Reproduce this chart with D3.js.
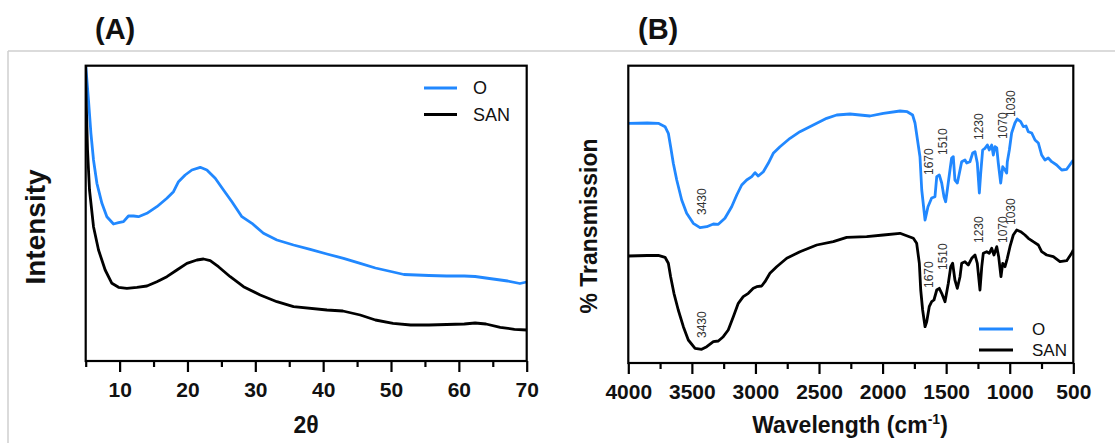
<!DOCTYPE html>
<html><head><meta charset="utf-8">
<script src="https://cdn.jsdelivr.net/npm/d3@7"></script>
<style>
body{margin:0;background:#fff}
svg{display:block}
text{font-family:"Liberation Sans",Arial,Helvetica,sans-serif}
</style>
</head><body>
<svg id="chart" width="1115" height="443"></svg>
<script>
// ---------- DATA ----------
const seriesNames = ["O", "SAN"];
const seriesColors = ["#2188ff", "#000000"];

// (A) XRD: 2θ vs intensity (a.u.)
const xrdTicks = [10, 20, 30, 40, 50, 60, 70];
const xrdMinorTicks = [5, 15, 25, 35, 45, 55, 65];
const xrdThetaO = [5, 5.41, 5.77, 6.15, 6.65, 7.39, 8.12, 9.1, 9.84, 10.57, 11.3, 12.05, 12.78, 14.02, 15.49, 16.97, 17.94, 18.68, 19.66, 20.65, 21.88, 22.86, 24.09, 25.31, 26.55, 28.02, 29.5, 31.2, 33.18, 35.63, 38.09, 40.55, 43, 45.46, 47.7, 50.3, 51.9, 55.6, 58.2, 60.8, 62.4, 64.5, 67.2, 69, 70];
const xrdIntensityO = [296, 261, 227.7, 201, 177.7, 157.7, 144.3, 137, 138.3, 139.3, 145, 145, 144.3, 147.7, 154.3, 162.7, 169.3, 179.3, 186, 191, 193.7, 191, 182.7, 171, 159.3, 144.3, 137.7, 127.7, 121, 116, 111.7, 107, 102.7, 97.7, 93, 89, 86.5, 85.5, 85, 85, 84.5, 82.5, 80, 77.5, 79];
const xrdThetaSAN = [5, 5.07, 5.27, 5.56, 6.15, 6.89, 7.87, 8.86, 9.84, 11.07, 12.55, 14.02, 15.49, 16.97, 18.44, 19.92, 21.39, 22.36, 23.35, 24.57, 26.3, 28.26, 30.72, 33.18, 35.63, 40.55, 42.9, 45.46, 47.7, 50.3, 52.9, 55.6, 58.2, 60.8, 62.4, 64, 66.1, 68.2, 70];
const xrdIntensitySAN = [296, 261, 211, 171, 134.3, 111, 91, 77.7, 73.7, 72.7, 73.7, 75, 79.3, 84.3, 91, 97.7, 101, 102, 100.3, 94.3, 84.3, 74.3, 66, 59.3, 54.3, 51, 50, 46, 41, 37.7, 36, 36, 36.5, 37, 38, 37, 33.7, 31.7, 31];

// (B) FTIR: wavenumber vs % transmission (a.u.)
const ftirTicks = [4000, 3500, 3000, 2500, 2000, 1500, 1000, 500];
const ftirMinorTicks = [3750, 3250, 2750, 2250, 1750, 1250, 750];
const ftirWaveO = [4000, 3850, 3764, 3711, 3685, 3667, 3646, 3619, 3580, 3541, 3489, 3436, 3383, 3331, 3292, 3240, 3187, 3147, 3108, 3069, 3029, 3003, 2978, 2938, 2899, 2860, 2807, 2728, 2650, 2545, 2440, 2361, 2256, 2178, 2099, 1994, 1863, 1806, 1764, 1745, 1706, 1692, 1666, 1643, 1614, 1588, 1574, 1554, 1535, 1517, 1504, 1491, 1470, 1457, 1444, 1431, 1412, 1391, 1378, 1352, 1338, 1313, 1291, 1273, 1255, 1239, 1228, 1213, 1195, 1176, 1161, 1142, 1129, 1116, 1102, 1090, 1071, 1055, 1037, 1024, 1019, 1003, 985, 959, 941, 914, 893, 872, 854, 827, 801, 775, 749, 723, 697, 670, 631, 591, 552, 500];
const ftirTransO = [239.7, 240, 239.7, 236.3, 229.7, 216.3, 199.7, 183, 163, 149.7, 139.7, 135.3, 136.3, 139, 138.7, 144.7, 156.3, 168, 178, 183, 186.3, 190.3, 187, 191.3, 199.7, 209.7, 216.3, 224.7, 231.3, 238, 244.7, 248, 249, 248, 247, 249.7, 252, 251.3, 248, 240, 206.3, 173, 143, 156.3, 165, 166.3, 186.3, 188, 180, 166.3, 161.3, 173, 193, 205, 206.3, 183, 180, 193, 201.3, 203, 200, 201.3, 210, 211.3, 200, 170, 190, 213, 214.7, 218, 213, 218, 208, 216.3, 215, 200, 180, 196.3, 193, 190, 201.3, 213, 230, 240, 244, 241.3, 236.3, 237, 231.3, 230, 223, 220, 208, 203, 205, 201.3, 198, 193, 193.7, 203];
const ftirWaveSAN = [4000, 3850, 3764, 3711, 3685, 3667, 3641, 3607, 3567, 3528, 3475, 3423, 3383, 3331, 3292, 3253, 3214, 3174, 3135, 3096, 3056, 3017, 2990, 2951, 2925, 2886, 2833, 2754, 2650, 2518, 2388, 2282, 2125, 1994, 1863, 1758, 1732, 1711, 1700, 1685, 1666, 1653, 1633, 1614, 1596, 1574, 1554, 1535, 1509, 1483, 1464, 1449, 1431, 1412, 1391, 1378, 1352, 1326, 1299, 1273, 1255, 1234, 1220, 1208, 1181, 1161, 1142, 1124, 1102, 1087, 1069, 1055, 1037, 1019, 998, 972, 945, 914, 880, 854, 815, 775, 749, 709, 657, 605, 552, 513, 500];
const ftirTransSAN = [107, 107.5, 107.7, 105.7, 99.7, 86.3, 69.7, 53, 36.3, 23, 14.7, 13.7, 16.3, 21.3, 22, 26.3, 33, 46.3, 59.7, 66.3, 69.7, 74.7, 76.3, 77, 81.3, 89.7, 96.3, 104.7, 111.3, 118, 121.3, 125.7, 126.3, 128, 129.7, 124.7, 119.7, 99.7, 73, 53, 36.3, 41.3, 56.3, 61.3, 63, 73, 74.7, 69.7, 61.3, 79.7, 96.3, 99.7, 83, 74.7, 86.3, 99.7, 101.3, 98, 104.7, 108, 99.7, 73, 96.3, 109.7, 111.3, 109.7, 114.7, 108, 116.3, 106.3, 86.3, 99.7, 96.3, 104.7, 116.3, 128, 133, 131.3, 128, 124.7, 121.3, 118, 111.3, 108, 106.3, 101.3, 102.3, 109.7, 113];

// peak annotations (label text, wavenumber, level in data units for each series)
const peakLabels = ["3430", "1670", "1510", "1230", "1070", "1030"];
const peakLabelWave = [3423, 1633, 1529, 1242, 1053, 994];
const peakLabelLevelO = [148, 188, 208, 223, 224, 246];
const peakLabelLevelSAN = [25, 75, 93, 120, 120, 138];

// ---------- DRAW ----------
const svg = d3.select("#chart");
const FONT = '"Liberation Sans",Arial,Helvetica,sans-serif';

svg.append("line").attr("x1", 8).attr("x2", 1115).attr("y1", 51).attr("y2", 51)
  .attr("stroke", "#cfcfcf").attr("stroke-width", 1.5);
svg.append("line").attr("x1", 8).attr("x2", 8).attr("y1", 51).attr("y2", 443)
  .attr("stroke", "#cfcfcf").attr("stroke-width", 1.5);

function panel(cfg) {
  const g = svg.append("g");
  const x = d3.scaleLinear().domain(cfg.xDomain).range([cfg.left, cfg.right]);
  const y = d3.scaleLinear().domain(cfg.yDomain).range([cfg.bottom, cfg.top]);
  const clipId = "clip" + cfg.id;
  svg.append("clipPath").attr("id", clipId).append("rect")
    .attr("x", cfg.left).attr("y", cfg.top - 1)
    .attr("width", cfg.right - cfg.left).attr("height", cfg.bottom - cfg.top + 1);

  const line = d3.line().x(d => x(d[0])).y(d => y(d[1]));
  cfg.series.forEach((s, i) => {
    const pts = s.xs.map((v, k) => [v, s.ys[k]]);
    g.append("path").attr("d", line(pts))
      .attr("fill", "none").attr("stroke", seriesColors[i])
      .attr("stroke-width", 2.8).attr("stroke-linejoin", "round")
      .attr("clip-path", `url(#${clipId})`);
  });

  g.append("rect").attr("x", cfg.left).attr("y", cfg.top)
    .attr("width", cfg.right - cfg.left).attr("height", cfg.bottom - cfg.top)
    .attr("fill", "none").attr("stroke", "#000").attr("stroke-width", 2.2);

  const ax = g.append("g").attr("transform", `translate(0,${cfg.bottom})`)
    .call(d3.axisBottom(x).tickValues(cfg.ticks).tickFormat(d3.format("d"))
      .tickSize(11).tickPadding(10).tickSizeOuter(0));
  ax.select(".domain").remove();
  ax.selectAll(".tick line").attr("stroke", "#000").attr("stroke-width", 2.2);
  ax.selectAll(".tick text").attr("font-family", FONT).attr("font-size", 21)
    .attr("font-weight", "bold").attr("fill", "#111");
  const mx = g.append("g").attr("transform", `translate(0,${cfg.bottom})`)
    .call(d3.axisBottom(x).tickValues(cfg.minor).tickFormat("").tickSize(6).tickSizeOuter(0));
  mx.select(".domain").remove();
  mx.selectAll(".tick line").attr("stroke", "#000").attr("stroke-width", 2.2);

  g.append("text").attr("x", cfg.titleX).attr("y", 39).text(cfg.title)
    .attr("font-size", 29).attr("font-weight", "bold").attr("fill", "#111");

  cfg.legend.rows.forEach((ly, i) => {
    g.append("line").attr("x1", cfg.legend.x1).attr("x2", cfg.legend.x2)
      .attr("y1", ly).attr("y2", ly).attr("stroke", seriesColors[i]).attr("stroke-width", 3);
    g.append("text").attr("x", cfg.legend.tx).attr("y", ly).attr("dy", "0.36em")
      .text(seriesNames[i]).attr("font-size", cfg.legend.fs).attr("fill", "#111");
  });
  return {g, x, y};
}

const A = panel({
  id: "A", left: 85.7, right: 526.7, top: 65.7, bottom: 361,
  xDomain: [5, 70], yDomain: [0, 295.3],
  ticks: xrdTicks, minor: xrdMinorTicks,
  series: [{xs: xrdThetaO, ys: xrdIntensityO}, {xs: xrdThetaSAN, ys: xrdIntensitySAN}],
  title: "(A)", titleX: 95,
  legend: {x1: 424, x2: 457, tx: 473, rows: [88, 114.5], fs: 18}
});
A.g.append("text").attr("x", 306).attr("y", 433).attr("text-anchor", "middle")
  .attr("font-size", 23).attr("font-weight", "bold").attr("fill", "#111").text("2θ");
A.g.append("text").attr("transform", "translate(45,227) rotate(-90)")
  .attr("text-anchor", "middle").attr("font-size", 28).attr("font-weight", "bold")
  .attr("fill", "#111").text("Intensity");

const B = panel({
  id: "B", left: 628.3, right: 1073.3, top: 65.7, bottom: 363,
  xDomain: [4000, 500], yDomain: [0, 297.3],
  ticks: ftirTicks, minor: ftirMinorTicks,
  series: [{xs: ftirWaveO, ys: ftirTransO}, {xs: ftirWaveSAN, ys: ftirTransSAN}],
  title: "(B)", titleX: 638,
  legend: {x1: 979, x2: 1013, tx: 1032, rows: [329, 350], fs: 17}
});
const wl = B.g.append("text").attr("x", 850).attr("y", 433).attr("text-anchor", "middle")
  .attr("font-size", 23).attr("font-weight", "bold").attr("fill", "#111");
wl.append("tspan").text("Wavelength (cm");
wl.append("tspan").attr("dy", -9).attr("font-size", 14).text("-1");
wl.append("tspan").attr("dy", 9).text(")");
B.g.append("text").attr("transform", "translate(597,226) rotate(-90)")
  .attr("text-anchor", "middle").attr("font-size", 23).attr("font-weight", "bold")
  .attr("fill", "#111").text("% Transmission");

[peakLabelLevelO, peakLabelLevelSAN].forEach(levels => {
  peakLabels.forEach((lab, i) => {
    const px = B.x(peakLabelWave[i]), py = B.y(levels[i]);
    B.g.append("text").attr("transform", `translate(${px},${py}) rotate(-90)`)
      .attr("dy", "0.35em").attr("text-anchor", "start")
      .attr("font-size", 12).attr("fill", "#333").text(lab);
  });
});
</script>
</body></html>
